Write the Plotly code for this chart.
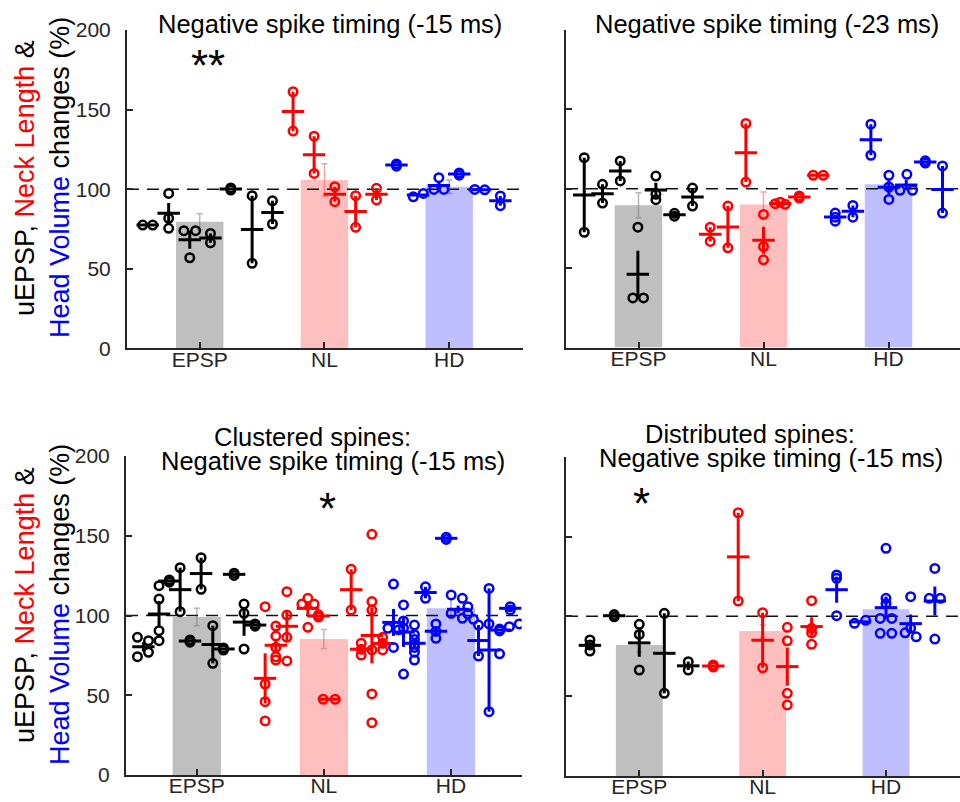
import numpy as np
import plotly.graph_objects as go

# ---------------- data ----------------
CATS = ["EPSP", "NL", "HD"]
Y_TICKS = [0, 50, 100, 150, 200]

TITLE_TL = "Negative spike timing (-15 ms)"
TITLE_TR = "Negative spike timing (-23 ms)"
TITLE_BL = ["Clustered spines:", "Negative spike timing (-15 ms)"]
TITLE_BR = ["Distributed spines:", "Negative spike timing (-15 ms)"]

# bar means and errors (EPSP, NL, HD)
TL_BAR = [79.5, 105.7, 101.5]
TL_BAR_ERR = [5.0, 10.3, 4.2]
TR_BAR = [89.6, 90.1, 102.8]
TR_BAR_ERR = [7.9, 7.8, 3.0]
BL_BAR = [99.0, 85.3, 104.5]
BL_BAR_ERR = [5.5, 6.0, 6.0]
BR_BAR = [82.0, 90.8, 104.4]
BR_BAR_ERR = [4.5, 4.0, 4.0]

# per-spine groups: x position, colour key, values, horizontal jitter
TL_X = [0.583, 0.751, 0.92, 1.086, 1.249, 1.42, 1.583,
        1.748, 1.917, 2.083, 2.25, 2.417,
        2.577, 2.75, 2.917, 3.08, 3.245, 3.41]
TL_C = "kkkkkkk" + "rrrrr" + "bbbbbb"
TL_V = [[77.4, 77.4], [97.3, 81.7, 75.4], [73.9, 73.9, 56.9], [72.2, 66.3],
        [100.8, 99.4], [95.9, 53.4], [92.7, 78.1],
        [161.2, 136.5], [133.3, 109.9], [101.5, 92.1], [95.9, 76.0], [100.5, 93.2],
        [115.8, 114.4], [95.2, 97.3], [99.8, 107.2, 99.8], [110.2, 108.8],
        [99.8, 99.6], [95.7, 89.6]]
TL_J = [[-0.04, 0.04], None, [-0.047, 0.047, 0.0], None,
        None, None, None,
        None, None, None, None, None,
        None, [-0.038, 0.042], [-0.04, 0.0, 0.04], None,
        [-0.04, 0.04], None]

TR_X = [0.566, 0.712, 0.854, 0.995, 1.139, 1.288, 1.432,
        1.574, 1.715, 1.859, 2.0, 2.134, 2.286, 2.438,
        2.574, 2.715, 2.859, 3.003, 3.142, 3.294, 3.432]
TR_C = "kkkkkkk" + "rrrrrrr" + "bbbbbbb"
TR_V = [[119.6, 72.6], [102.8, 91.0], [117.5, 104.9], [75.8, 31.2, 31.2],
        [108.0, 96.5, 93.1], [84.5, 82.7], [100.4, 89.1],
        [75.8, 66.8], [89.1, 62.8], [141.1, 104.2], [83.8, 63.6, 55.2],
        [90.6, 91.5, 90.2], [95.5, 94.1], [108.5, 108.5],
        [84.7, 82.1, 79.6], [89.5, 82.1], [140.7, 121.1], [108.5, 101.1, 93.3],
        [99.0, 109.1, 99.0], [117.6, 116.2], [114.4, 84.7]]
TR_J = [None, None, None, [0.0, -0.04, 0.045],
        None, None, None,
        None, None, None, None,
        [-0.04, 0.0, 0.04], None, [-0.04, 0.04],
        None, None, None, None,
        [-0.05, 0.005, 0.05], None, None]

BL_X = [0.58, 0.703, 0.784, 0.869, 0.947, 1.034, 1.126, 1.21, 1.294, 1.372, 1.459,
        1.538, 1.622, 1.709, 1.874, 1.958, 2.042, 2.215, 2.294, 2.378, 2.463,
        2.548, 2.627, 2.713, 2.8, 2.882, 2.963, 3.057, 3.217, 3.3, 3.383, 3.467]
BL_C = "kkkkkkkkkkk" + "rrrrrrrrrr" + "bbbbbbbbbbb"
BL_V = [[86.3, 74.2, 84.2, 76.9], [118.7, 110.3, 90.5, 84.2], [122.3, 120.9],
        [130.0, 102.4], [84.7, 83.3], [136.2, 116.4], [93.6, 70.0], [79.7, 78.3],
        [126.5, 125.1], [107.2, 101.4, 79.0], [94.7, 93.3],
        [105.5, 57.0, 46.0, 33.9], [93.4, 87.1, 80.0, 74.2, 72.1],
        [114.9, 100.3, 86.3, 71.5], [107.2, 110.8, 107.2, 92.6], [100.4, 99.0],
        [47.5, 47.5], [129.0, 103.4], [82.6, 78.8, 75.2],
        [150.9, 108.7, 103.4, 78.4, 50.8, 32.8], [86.3, 82.6, 78.4],
        [119.7, 92.0, 91.0, 80.0], [106.6, 96.6, 92.0, 63.3],
        [94.0, 88.0, 85.0, 82.0, 80.0, 77.0, 72.1], [118.0, 110.8],
        [94.7, 90.0, 85.7], [149.1, 147.7],
        [112.9, 101.4, 110.8, 98.2, 105.5, 101.0, 97.6], [94.0, 74.6],
        [117.0, 39.7], [91.5, 90.3], [105.5, 103.5]]
BL_J = [[-0.047, -0.047, 0.04, 0.04], None, None, None, None, None, None, None,
        None, None, None,
        None, None, None, [-0.047, 0.0, 0.05, 0.0], None, [-0.047, 0.047],
        None, None, None, None,
        [0.0, -0.044, 0.04, 0.0], None, None, None, None, None,
        [-0.055, -0.055, 0.033, 0.033, 0.076, 0.076, 0.12], None, None, None, None]
BL_EXTRA_X = [3.3, 3.383, 3.46, 3.538]
BL_EXTRA_Y = [94.7, 76.0, 93.0, 94.7]

BR_X = [0.6, 0.797, 1.0, 1.203, 1.397,
        1.6, 1.802, 2.0, 2.2, 2.397,
        2.6, 2.79, 3.0, 3.2, 3.396]
BR_C = "kkkkk" + "rrrrr" + "bbbbb"
BR_V = [[85.2, 82.0, 78.3], [101.1, 99.7], [95.0, 88.7, 66.4], [101.9, 51.8],
        [71.6, 66.4],
        [69.6, 68.2], [164.9, 109.6], [102.3, 67.8], [93.1, 84.7, 51.8, 44.5],
        [109.8, 92.5, 89.6, 82.5],
        [125.9, 123.8, 100.4], [95.6, 97.5],
        [142.6, 111.3, 108.0, 98.7, 98.7, 89.4, 89.4],
        [112.3, 89.7, 92.5, 87.2], [130.0, 111.3, 111.3, 85.8]]
BR_J = [None, None, None, None, None,
        None, None, None, None, None,
        None, [-0.045, 0.045], [0.0, 0.0, 0.0, -0.047, 0.047, -0.047, 0.047],
        [0.0, -0.045, 0.0, 0.045], [0.0, -0.045, 0.045, 0.0]]

# significance marks (x, y, text)
STARS_TL = (1.065, 177.5, "**")
STARS_BL = (2.026, 167.0, "*")
STARS_BR = (1.022, 171.0, "*")

# ---------------- styling ----------------
FONT = "Liberation Sans, Arial, Helvetica, sans-serif"
AX = "#262626"
PT_COL = {"k": "#000000", "r": "#FF0000", "b": "#0000FF"}
BAR_COL = ["#BFBFBF", "#FFBFBF", "#BFBFFF"]
BAR_ERR_COL = ["rgba(120,120,120,0.55)", "rgba(235,90,90,0.55)", "rgba(90,90,235,0.55)"]

W, H = 960, 802
PANELS = [
    # (axis suffix, x domain px, y domain px (top,bottom), x range, show y labels)
    ("", (127, 522.7), (30, 348.3), (0.417, 3.589), True),
    ("2", (566, 960), (30, 347.5), (0.42, 3.572), False),
    ("3", (126, 521.7), (456, 775), (0.443, 3.557), True),
    ("4", (566, 960), (456.7, 776), (0.406, 3.6), False),
]
DATA = [
    (TL_BAR, TL_BAR_ERR, TL_X, TL_C, TL_V, TL_J, [], []),
    (TR_BAR, TR_BAR_ERR, TR_X, TR_C, TR_V, TR_J, [], []),
    (BL_BAR, BL_BAR_ERR, BL_X, BL_C, BL_V, BL_J, BL_EXTRA_X, BL_EXTRA_Y),
    (BR_BAR, BR_BAR_ERR, BR_X, BR_C, BR_V, BR_J, [], []),
]

fig = go.Figure()
layout = dict(width=W, height=H,
              margin=dict(l=0, r=0, t=0, b=0, pad=0, autoexpand=False),
              paper_bgcolor="white", plot_bgcolor="white", showlegend=False,
              font=dict(family=FONT, color="#000000"))

for (suf, xd, yd, xr, ylab), (bar, berr, gx, gc, gv, gj, ex, ey) in zip(PANELS, DATA):
    xa, ya = "x" + suf, "y" + suf
    layout["xaxis" + suf] = dict(
        domain=[xd[0] / W, xd[1] / W], range=list(xr), anchor=ya, automargin=False,
        tickmode="array", tickvals=[1, 2, 3], ticktext=CATS,
        showline=True, linecolor=AX, linewidth=2, ticks="inside", ticklen=6,
        tickwidth=2, tickcolor=AX, showgrid=False, zeroline=False,
        tickfont=dict(family=FONT, size=21, color=AX), ticklabelstandoff=-9)
    layout["yaxis" + suf] = dict(
        domain=[1 - yd[1] / H, 1 - yd[0] / H], range=[0, 200], anchor=xa,
        automargin=False,
        tickmode="array", tickvals=Y_TICKS, showticklabels=ylab,
        showline=True, linecolor=AX, linewidth=2, ticks="inside", ticklen=6,
        tickwidth=2, tickcolor=AX, showgrid=False, zeroline=False,
        tickfont=dict(family=FONT, size=21, color=AX), ticklabelstandoff=10)

    # bars
    for i, cat in enumerate(CATS):
        fig.add_trace(go.Bar(
            x=[i + 1], y=[bar[i]], width=0.38, xaxis=xa, yaxis=ya,
            marker=dict(color=BAR_COL[i], line=dict(width=0)),
            error_y=dict(type="data", array=[berr[i]], color=BAR_ERR_COL[i],
                         thickness=1.5, width=3)))

    # reference line at 100 %
    fig.add_trace(go.Scatter(
        x=list(xr), y=[100, 100], mode="lines", xaxis=xa, yaxis=ya,
        line=dict(color="#111111", width=1.5, dash="12px,8px"), hoverinfo="skip"))

    # individual groups, combined per colour
    for key in "krb":
        col = PT_COL[key]
        px_, py_, mx, my, me = [], [], [], [], []
        for x0, c, vals, jit in zip(gx, gc, gv, gj):
            if c != key:
                continue
            v = np.array(vals, dtype=float)
            j = np.zeros(len(v)) if jit is None else np.array(jit)
            px_ += list(x0 + j)
            py_ += list(v)
            mx.append(x0)
            my.append(v.mean())
            me.append(v.std(ddof=1) / np.sqrt(len(v)) if len(v) > 1 else 0.0)
        if key == "b":
            px_ += list(ex)
            py_ += list(ey)
        if not mx:
            continue
        fig.add_trace(go.Scatter(
            x=px_, y=py_, mode="markers", xaxis=xa, yaxis=ya,
            marker=dict(symbol="circle-open", size=8.5, color=col,
                        line=dict(width=2.5, color=col))))
        fig.add_trace(go.Scatter(
            x=mx, y=my, mode="markers", xaxis=xa, yaxis=ya,
            marker=dict(symbol="line-ew", size=16, color=col,
                        line=dict(width=3, color=col)),
            error_y=dict(type="data", array=me, color=col, thickness=3, width=0)))

ann = []
# titles
def title(text, cx, baseline, size=25.5):
    ann.append(dict(text=text, x=cx / W, y=1 - (baseline - 0.35 * size) / H,
                    xref="paper", yref="paper", xanchor="center", yanchor="middle",
                    showarrow=False, font=dict(family=FONT, size=size, color="#000000")))

title(TITLE_TL, 330, 33)
title(TITLE_TR, 767, 33)
title(TITLE_BL[0], 312, 446)
title(TITLE_BL[1], 333, 470)
title(TITLE_BR[0], 750, 443)
title(TITLE_BR[1], 771, 467)

# significance stars
for (sx, sy, st), (xa, ya) in zip([STARS_TL, STARS_BL, STARS_BR],
                                   [("x", "y"), ("x3", "y3"), ("x4", "y4")]):
    ann.append(dict(text=st, x=sx, y=sy, xref=xa, yref=ya, showarrow=False,
                    xanchor="center", yanchor="middle",
                    font=dict(family=FONT, size=44, color="#000000")))

# y-axis titles (two lines, multi-coloured)
LINE1 = "uEPSP, <span style='color:#FF0000'>Neck Length</span> &"
LINE2 = "<span style='color:#0000FF'>Head Volume</span> changes (%)"
for cy in (178, 605):
    for text, cx in ((LINE1, 25), (LINE2, 60)):
        ann.append(dict(text=text, x=cx / W, y=1 - cy / H, xref="paper", yref="paper",
                        textangle=-90, showarrow=False, xanchor="center",
                        yanchor="middle",
                        font=dict(family=FONT, size=27, color="#000000")))

layout["annotations"] = ann
fig.update_layout(**layout)
fig.write_html("out.html", config={"displayModeBar": False},
               post_script="document.body.style.margin='0px';"
                           "document.body.style.overflow='hidden';")
